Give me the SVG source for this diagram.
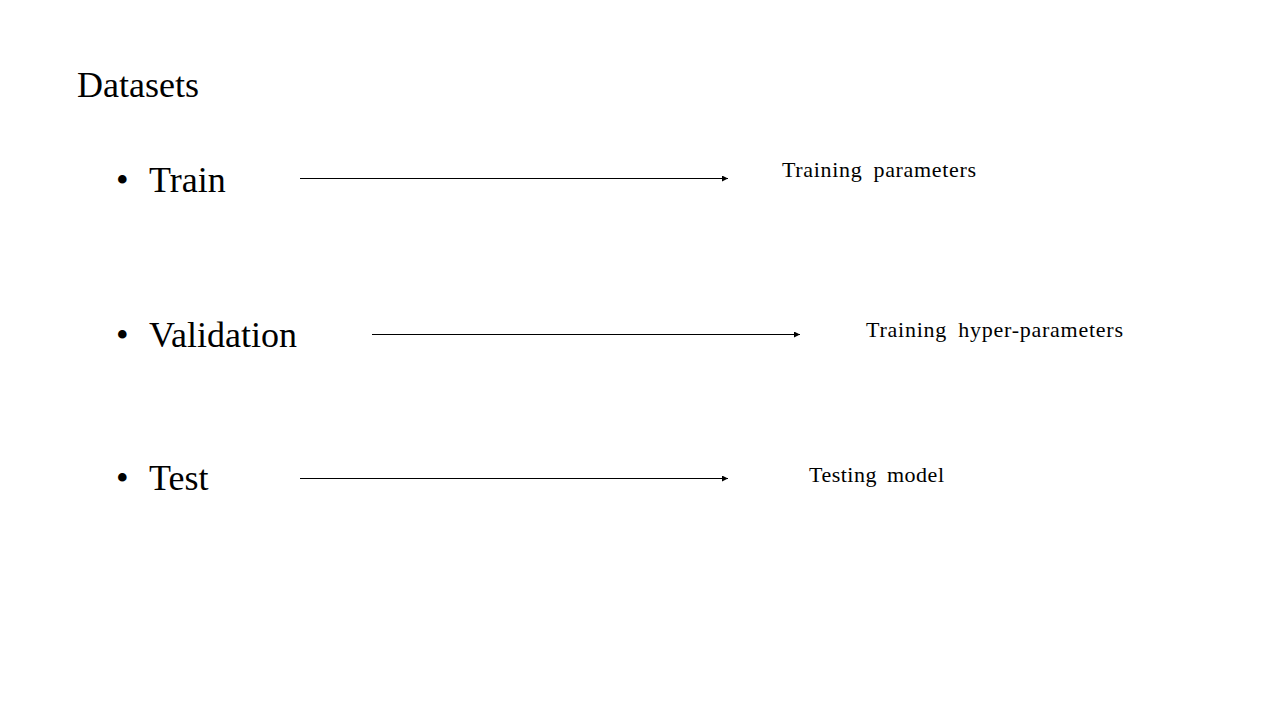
<svg xmlns="http://www.w3.org/2000/svg" width="1280" height="720" viewBox="0 0 1280 720">
<style>
.t{font-family:"Liberation Serif","Times New Roman",serif;fill:#000}
.h{font-size:36px}
.l{font-size:22px}
.c{stroke:#000;stroke-width:1.2;fill:none}
</style>
<defs>
<marker id="ah" viewBox="0 0 10 10" refX="10" refY="5" markerWidth="9" markerHeight="6" markerUnits="userSpaceOnUse" orient="auto">
<path d="M0,0 L10,5 L0,10 Z" fill="#000"/>
</marker>
</defs>
<rect width="1280" height="720" fill="#fff"/>
<g id="title"><text class="t h" x="77" y="97">Datasets</text></g>
<g id="train"><text class="t h" x="116" y="192">•</text><text class="t h" x="149" y="192">Train</text></g>
<g id="validation"><text class="t h" x="116" y="347">•</text><text class="t h" x="149" y="347">Validation</text></g>
<g id="test"><text class="t h" x="116" y="490">•</text><text class="t h" x="149" y="490">Test</text></g>
<g id="training-parameters"><text class="t l" x="782" y="177" word-spacing="5" textLength="194" lengthAdjust="spacing">Training parameters</text></g>
<g id="training-hyper-parameters"><text class="t l" x="866" y="337" word-spacing="5" textLength="257" lengthAdjust="spacing">Training hyper-parameters</text></g>
<g id="testing-model"><text class="t l" x="809" y="482" word-spacing="4" textLength="135" lengthAdjust="spacing">Testing model</text></g>
<g id="connectors">
<line class="c" x1="300" y1="178.5" x2="728" y2="178.5" marker-end="url(#ah)"/>
<line class="c" x1="372" y1="334.5" x2="800" y2="334.5" marker-end="url(#ah)"/>
<line class="c" x1="300" y1="478.5" x2="728" y2="478.5" marker-end="url(#ah)"/>
</g>
</svg>
